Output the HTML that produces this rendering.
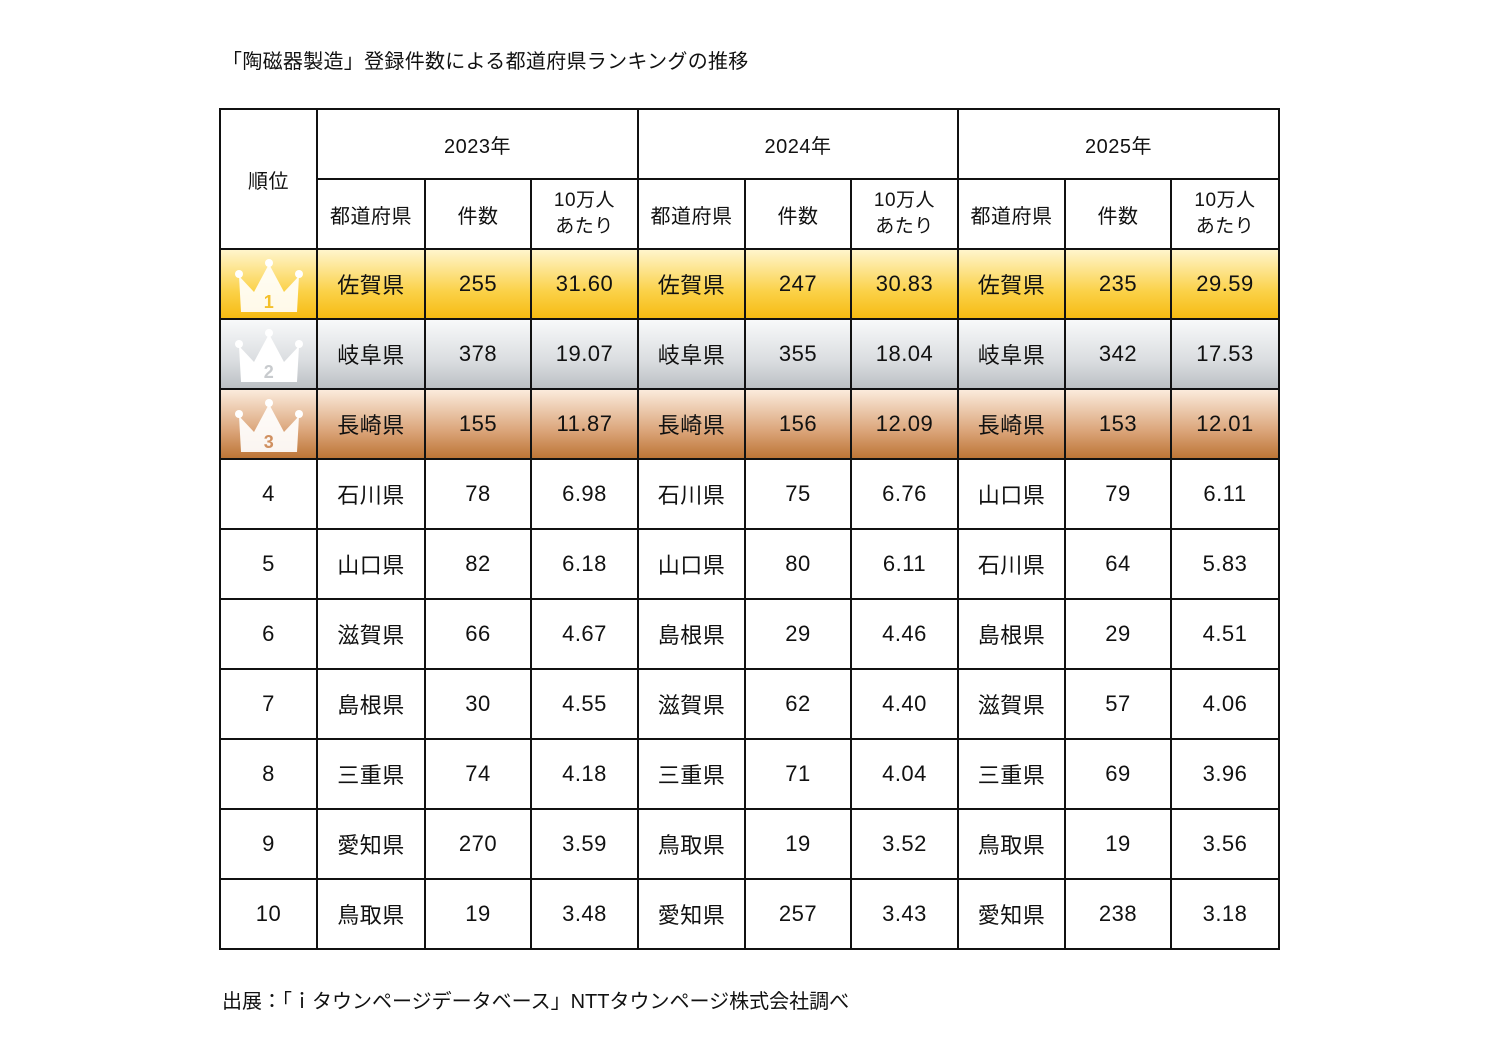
<!DOCTYPE html>
<html><head><meta charset="utf-8">
<style>
body{margin:0;width:1497px;height:1058px;background:#fff;position:relative;font-family:"Liberation Sans","Noto Sans CJK JP",sans-serif;color:#111;}
.title{position:absolute;left:222px;top:45px;font-size:20px;letter-spacing:0.3px;}
.src{position:absolute;left:222px;top:985px;font-size:20px;letter-spacing:0px;}
table{position:absolute;left:219px;top:108px;border-collapse:collapse;table-layout:fixed;width:1060px;}
td{border:2px solid #111;text-align:center;font-size:22px;height:68px;padding:0;letter-spacing:0.5px;}
td.h{font-size:20px;}
td.s{font-size:19px;line-height:26px;}
tr.g td{background:linear-gradient(#fff5cc,#fbd24a 60%,#f6bb12);}
tr.sv td{background:linear-gradient(#f8f9fa,#dadde0 60%,#bcc0c4);}
tr.b td{background:linear-gradient(#fbebdc,#dba57a 60%,#bd7536);}
svg{display:block;margin:4px auto 0;}
</style></head><body>
<div class="title">「陶磁器製造」登録件数による都道府県ランキングの推移</div>
<table>
<colgroup><col style="width:97px"><col style="width:108px"><col style="width:106px"><col style="width:107px"><col style="width:107px"><col style="width:106px"><col style="width:107px"><col style="width:107px"><col style="width:106px"><col style="width:108px"></colgroup>
<tr><td rowspan="2" class="h">順位</td><td colspan="3" class="h">2023年</td><td colspan="3" class="h">2024年</td><td colspan="3" class="h">2025年</td></tr>
<tr><td class="h">都道府県</td><td class="h">件数</td><td class="s">10万人<br>あたり</td><td class="h">都道府県</td><td class="h">件数</td><td class="s">10万人<br>あたり</td><td class="h">都道府県</td><td class="h">件数</td><td class="s">10万人<br>あたり</td></tr>
<tr class="g"><td><svg width="70" height="56" viewBox="0 0 70 56"><polygon points="5,18 20,34 35,6 50,34 65,18 63,54 7,54" fill="#fff" opacity="0.9"/><circle cx="5" cy="16" r="4" fill="#fff"/><circle cx="35" cy="5" r="4" fill="#fff"/><circle cx="65" cy="16" r="4" fill="#fff"/><text x="35" y="50" font-size="18" font-weight="bold" text-anchor="middle" fill="#f4c02a" font-family="Liberation Sans">1</text></svg></td><td>佐賀県</td><td>255</td><td>31.60</td><td>佐賀県</td><td>247</td><td>30.83</td><td>佐賀県</td><td>235</td><td>29.59</td></tr>
<tr class="sv"><td><svg width="70" height="56" viewBox="0 0 70 56"><polygon points="5,18 20,34 35,6 50,34 65,18 63,54 7,54" fill="#fff"/><circle cx="5" cy="16" r="4" fill="#fff"/><circle cx="35" cy="5" r="4" fill="#fff"/><circle cx="65" cy="16" r="4" fill="#fff"/><text x="35" y="50" font-size="18" font-weight="bold" text-anchor="middle" fill="#c8cbce" font-family="Liberation Sans">2</text></svg></td><td>岐阜県</td><td>378</td><td>19.07</td><td>岐阜県</td><td>355</td><td>18.04</td><td>岐阜県</td><td>342</td><td>17.53</td></tr>
<tr class="b"><td><svg width="70" height="56" viewBox="0 0 70 56"><polygon points="5,18 20,34 35,6 50,34 65,18 63,54 7,54" fill="#fff" opacity="0.92"/><circle cx="5" cy="16" r="4" fill="#fff"/><circle cx="35" cy="5" r="4" fill="#fff"/><circle cx="65" cy="16" r="4" fill="#fff"/><text x="35" y="50" font-size="18" font-weight="bold" text-anchor="middle" fill="#d09060" font-family="Liberation Sans">3</text></svg></td><td>長崎県</td><td>155</td><td>11.87</td><td>長崎県</td><td>156</td><td>12.09</td><td>長崎県</td><td>153</td><td>12.01</td></tr>
<tr><td>4</td><td>石川県</td><td>78</td><td>6.98</td><td>石川県</td><td>75</td><td>6.76</td><td>山口県</td><td>79</td><td>6.11</td></tr>
<tr><td>5</td><td>山口県</td><td>82</td><td>6.18</td><td>山口県</td><td>80</td><td>6.11</td><td>石川県</td><td>64</td><td>5.83</td></tr>
<tr><td>6</td><td>滋賀県</td><td>66</td><td>4.67</td><td>島根県</td><td>29</td><td>4.46</td><td>島根県</td><td>29</td><td>4.51</td></tr>
<tr><td>7</td><td>島根県</td><td>30</td><td>4.55</td><td>滋賀県</td><td>62</td><td>4.40</td><td>滋賀県</td><td>57</td><td>4.06</td></tr>
<tr><td>8</td><td>三重県</td><td>74</td><td>4.18</td><td>三重県</td><td>71</td><td>4.04</td><td>三重県</td><td>69</td><td>3.96</td></tr>
<tr><td>9</td><td>愛知県</td><td>270</td><td>3.59</td><td>鳥取県</td><td>19</td><td>3.52</td><td>鳥取県</td><td>19</td><td>3.56</td></tr>
<tr><td>10</td><td>鳥取県</td><td>19</td><td>3.48</td><td>愛知県</td><td>257</td><td>3.43</td><td>愛知県</td><td>238</td><td>3.18</td></tr>
</table>
<div class="src">出展：「ｉタウンページデータベース」NTTタウンページ株式会社調べ</div>
</body></html>
